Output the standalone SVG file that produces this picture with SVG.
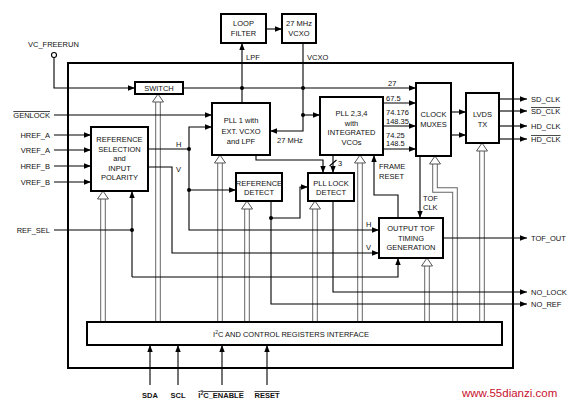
<svg xmlns="http://www.w3.org/2000/svg" width="576" height="406" viewBox="0 0 576 406">
<defs>
<marker id="ah" viewBox="0 0 7 5.4" refX="7" refY="2.7" markerWidth="7" markerHeight="5.4" markerUnits="userSpaceOnUse" orient="auto"><path d="M0,0 L7,2.7 L0,5.4 z" fill="#000"/></marker>
<style>
text{font-family:"Liberation Sans",Arial,sans-serif;font-size:7.5px;fill:#111}
.c{text-anchor:middle}
.r{text-anchor:end}
.b{font-weight:bold}
.ov{text-decoration:overline}
.box{fill:#fff;stroke:#000;stroke-width:2}
.w{fill:none;stroke:#000;stroke-width:1.1}
.a{marker-end:url(#ah)}
.bo{fill:none;stroke:#666;stroke-width:5.6}
.bi{fill:none;stroke:#fff;stroke-width:3.6}
.hh{fill:#fff;stroke:#555;stroke-width:1}
.dot{fill:#000}
</style>
</defs>
<rect width="576" height="406" fill="#fff"/>
<rect x="68" y="63" width="445" height="305" fill="none" stroke="#000" stroke-width="2"/>

<g id="buses">
<path class="bo" d="M158,102V322 M103,199V322 M220,163V322 M247,209V322 M315,209V322 M360,163V322 M482,151V322 M427,266V322 M435,164V190H455V322"/>
<path class="bi" d="M158,101V323 M103,198V323 M220,162V323 M247,208V323 M315,208V323 M360,162V323 M482,150V323 M427,265V323 M435,163V190H455V323"/>
<polygon class="hh" points="158,94 163.5,102 152.5,102"/>
<polygon class="hh" points="103,191 108.5,199 97.5,199"/>
<polygon class="hh" points="220,155 225.5,163 214.5,163"/>
<polygon class="hh" points="247,201 252.5,209 241.5,209"/>
<polygon class="hh" points="315,201 320.5,209 309.5,209"/>
<polygon class="hh" points="360,155 365.5,163 354.5,163"/>
<polygon class="hh" points="482,143 487.5,151 476.5,151"/>
<polygon class="hh" points="427,258 432.5,266 421.5,266"/>
<polygon class="hh" points="435,156 440.5,164 429.5,164"/>
</g>

<g id="connectors">
<circle cx="54" cy="55" r="2.5" fill="#fff" stroke="#000" stroke-width="1.1"/>
<path class="w a" d="M54,57.5V88H135"/>
<path class="w a" d="M183,88H416"/>
<path class="w a" d="M242,103V43"/>
<path class="w a" d="M266,29H282"/>
<path class="w a" d="M303,43V131H270"/>
<path class="w a" d="M303,115H320"/>
<path class="w a" d="M54,115H212"/>
<path class="w a" d="M54,135H91"/>
<path class="w a" d="M54,150H91"/>
<path class="w a" d="M54,166H91"/>
<path class="w a" d="M54,182H91"/>
<path class="w" d="M148,149H189"/>
<path class="w a" d="M189,149V127H212"/>
<path class="w a" d="M189,149V230H379"/>
<path class="w a" d="M189,190H236"/>
<path class="w a" d="M148,167H172V253H379"/>
<path class="w" d="M54,230H132"/>
<path class="w a" d="M132,277V191"/>
<path class="w a" d="M132,277H398V258"/>
<path class="w a" d="M271,201V304H527"/>
<path class="w a" d="M271,218H300V187H308"/>
<path class="w a" d="M333,201V292H527"/>
<path class="w a" d="M256,155V160H323V173"/>
<path class="w a" d="M333,155V173"/>
<path class="w" d="M329.5,166L336.5,160"/>
<path class="w a" d="M398,218V195H374V155"/>
<path class="w a" d="M420,156V218"/>
<path class="w a" d="M443,238H527"/>
<path class="w a" d="M383,103H416"/>
<path class="w a" d="M383,126H416"/>
<path class="w a" d="M383,149H416"/>
<path class="w a" d="M451,112H466"/>
<path class="w a" d="M451,135H466"/>
<path class="w a" d="M499,99H527"/>
<path class="w a" d="M499,111H527"/>
<path class="w a" d="M499,126H527"/>
<path class="w a" d="M499,139H527"/>
<path class="w a" d="M150,385V345"/>
<path class="w a" d="M178,385V345"/>
<path class="w a" d="M222,385V345"/>
<path class="w a" d="M267,385V345"/>
<circle class="dot" cx="242" cy="88" r="2"/>
<circle class="dot" cx="303" cy="88" r="2"/>
<circle class="dot" cx="303" cy="115" r="2"/>
<circle class="dot" cx="189" cy="149" r="2"/>
<circle class="dot" cx="189" cy="190" r="2"/>
<circle class="dot" cx="132" cy="230" r="2"/>
<circle class="dot" cx="271" cy="218" r="2"/>
</g>

<g id="labels">
<text x="28" y="47">VC_FREERUN</text>
<text x="50" y="118" class="r ov">GENLOCK</text>
<text x="50" y="138" class="r">HREF_A</text>
<text x="50" y="153" class="r">VREF_A</text>
<text x="50" y="169" class="r">HREF_B</text>
<text x="50" y="185" class="r">VREF_B</text>
<text x="50" y="233" class="r">REF_SEL</text>
<text x="246" y="60">LPF</text>
<text x="307" y="60">VCXO</text>
<text x="277" y="143">27 MHz</text>
<text x="176" y="147">H</text>
<text x="176" y="172">V</text>
<text x="366" y="227">H</text>
<text x="366" y="250">V</text>
<text x="338" y="166">3</text>
<text x="388" y="86">27</text>
<text x="386" y="101">67.5</text>
<text x="386" y="115">74.176</text>
<text x="386" y="124">148.35</text>
<text x="386" y="138">74.25</text>
<text x="386" y="146">148.5</text>
<text x="379" y="169">FRAME</text>
<text x="379" y="179">RESET</text>
<text x="423" y="201">TOF</text>
<text x="423" y="210">CLK</text>
<text x="531" y="102">SD_CLK</text>
<text x="531" y="114" class="ov">SD_CLK</text>
<text x="531" y="129">HD_CLK</text>
<text x="531" y="142" class="ov">HD_CLK</text>
<text x="531" y="241">TOF_OUT</text>
<text x="531" y="295">NO_LOCK</text>
<text x="531" y="307">NO_REF</text>
<text x="150" y="398" class="c b">SDA</text>
<text x="178" y="398" class="c b">SCL</text>
<text x="221" y="398" class="c b ov">I<tspan font-size="5" dy="-3">2</tspan><tspan dy="3">C_ENABLE</tspan></text>
<text x="267" y="398" class="c b ov">RESET</text>
</g>

<g id="loop_filter"><rect class="box" x="221" y="14" width="45" height="29"/><text class="c" x="243.5" y="26">LOOP</text><text class="c" x="243.5" y="36">FILTER</text></g>
<g id="vcxo"><rect class="box" x="282" y="14" width="34" height="29"/><text class="c" x="299" y="26">27 MHz</text><text class="c" x="299" y="36">VCXO</text></g>
<g id="switch"><rect class="box" x="135" y="82" width="48" height="12"/><text class="c" x="159" y="91">SWITCH</text></g>
<g id="ref_sel"><rect class="box" x="91" y="127" width="57" height="64"/><text class="c" x="119.5" y="142">REFERENCE</text><text class="c" x="119.5" y="151.5">SELECTION</text><text class="c" x="119.5" y="161">and</text><text class="c" x="119.5" y="170.5">INPUT</text><text class="c" x="119.5" y="180">POLARITY</text></g>
<g id="pll1"><rect class="box" x="212" y="103" width="58" height="52"/><text class="c" x="241" y="123">PLL 1 with</text><text class="c" x="241" y="133.5">EXT. VCXO</text><text class="c" x="241" y="143.5">and LPF</text></g>
<g id="pll234"><rect class="box" x="320" y="97" width="63" height="58"/><text class="c" x="351.5" y="116">PLL 2,3,4</text><text class="c" x="351.5" y="125.5">with</text><text class="c" x="351.5" y="135">INTEGRATED</text><text class="c" x="351.5" y="144.5">VCOs</text></g>
<g id="clock_muxes"><rect class="box" x="416" y="83" width="35" height="73"/><text class="c" x="433.5" y="117">CLOCK</text><text class="c" x="433.5" y="126.5">MUXES</text></g>
<g id="lvds_tx"><rect class="box" x="466" y="93" width="33" height="50"/><text class="c" x="482.5" y="117">LVDS</text><text class="c" x="482.5" y="126.5">TX</text></g>
<g id="ref_detect"><rect class="box" x="236" y="173" width="46" height="28"/><text class="c" x="259" y="186">REFERENCE</text><text class="c" x="259" y="195">DETECT</text></g>
<g id="pll_lock"><rect class="box" x="308" y="173" width="46" height="28"/><text class="c" x="331" y="186">PLL LOCK</text><text class="c" x="331" y="195">DETECT</text></g>
<g id="output_tof"><rect class="box" x="379" y="218" width="64" height="40"/><text class="c" x="411" y="231">OUTPUT TOF</text><text class="c" x="411" y="240.5">TIMING</text><text class="c" x="411" y="250">GENERATION</text></g>
<g id="i2c"><rect class="box" x="87" y="322" width="415" height="23"/><text class="c" x="291" y="337">I<tspan font-size="5" dy="-3">2</tspan><tspan dy="3">C AND CONTROL REGISTERS INTERFACE</tspan></text></g>

<text x="462" y="397" style="font-size:11.5px;fill:#c8102e">www.55dianzi.com</text>
</svg>
